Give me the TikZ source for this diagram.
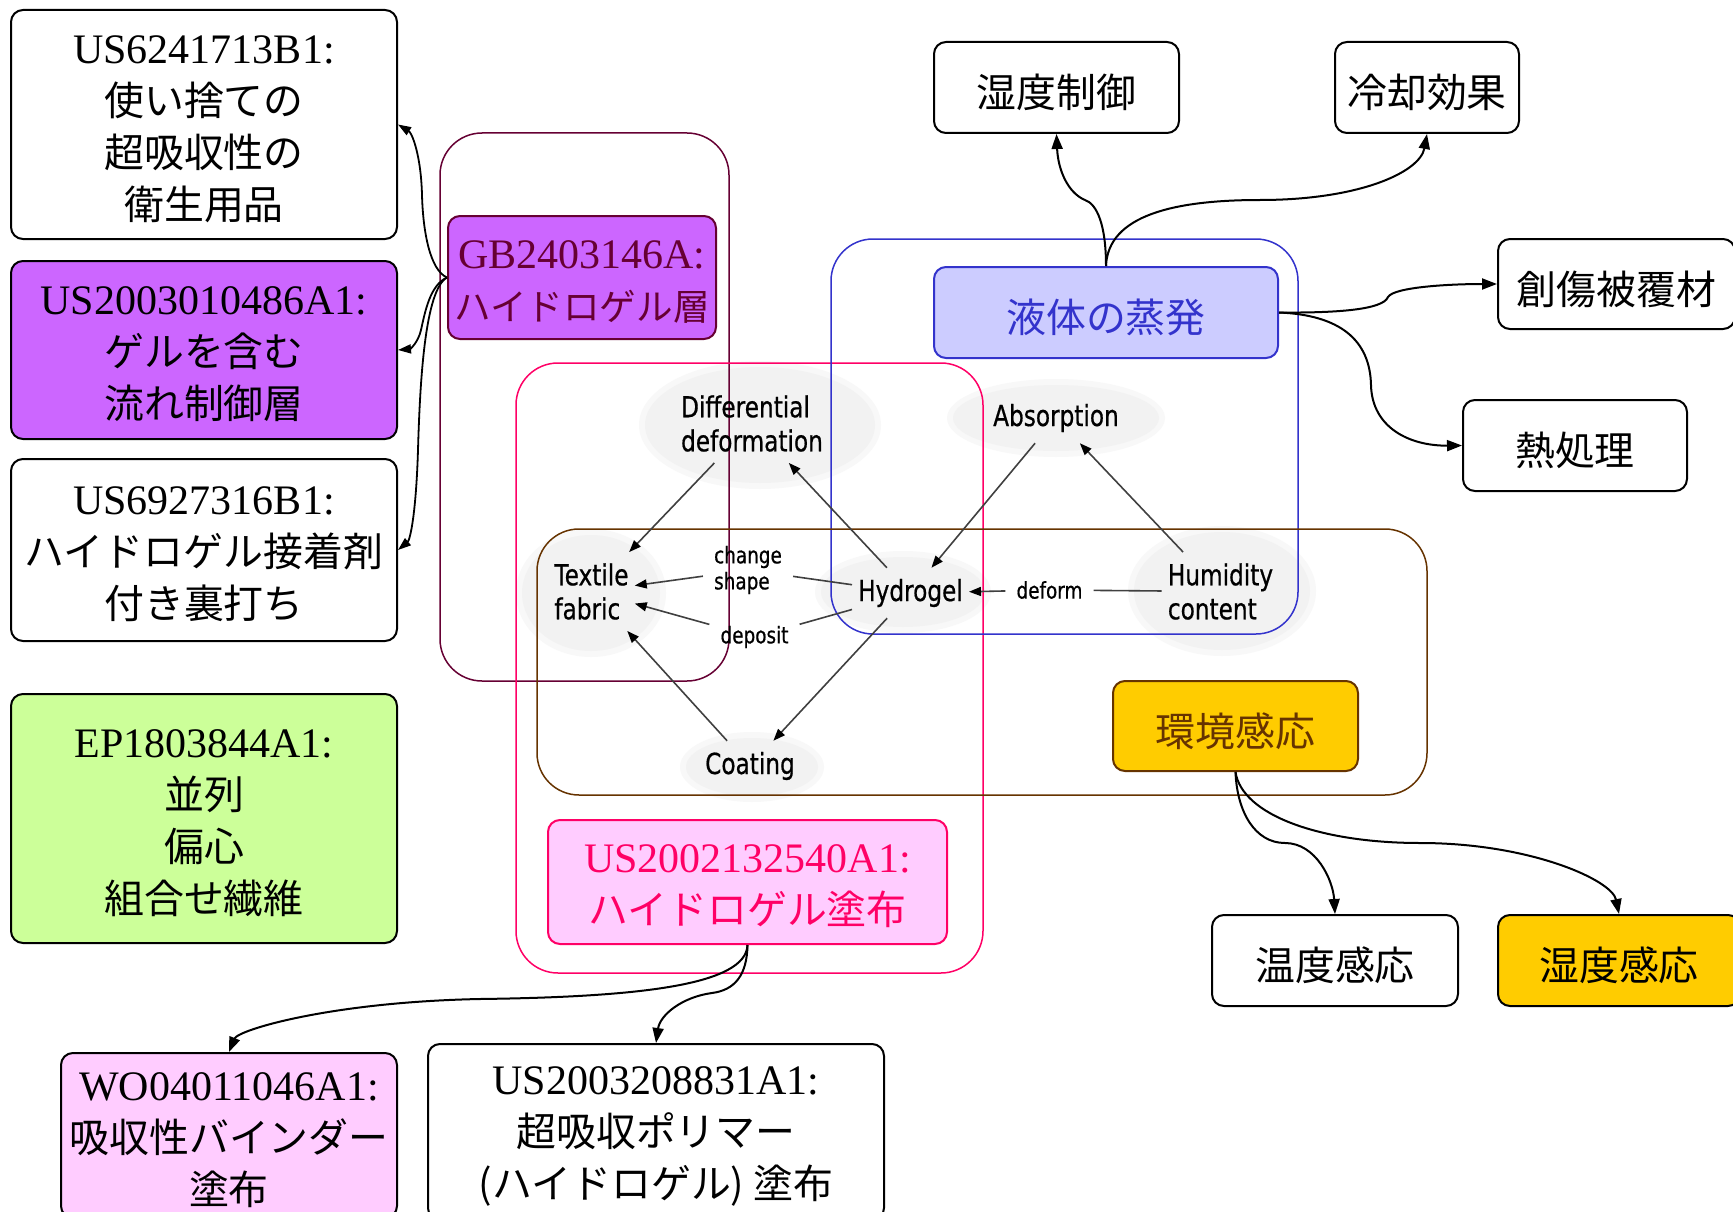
\documentclass[tikz,border=0pt]{standalone}
\usepackage{fontspec}
\setmainfont{Liberation Serif}
\newfontfamily\jpfont{Noto Sans CJK JP}[Scale=0.95]
\newfontfamily\cmapfont{DejaVu Sans}[FakeStretch=0.8,FakeBold=0.6]
\usetikzlibrary{arrows.meta}

% struts that lower the text block a little inside its box
\newcommand\boxlift{\rule{0pt}{37pt}}
\newcommand\jplift{\rule{0pt}{44pt}}

\definecolor{purp}{HTML}{CC66FF}
\definecolor{plum}{HTML}{660033}
\definecolor{hotpink}{HTML}{FF0066}
\definecolor{lpink}{HTML}{FFCCFF}
\definecolor{lgreen}{HTML}{CCFF99}
\definecolor{lblue}{HTML}{CCCCFF}
\definecolor{dblue}{HTML}{3333CC}
\definecolor{gold}{HTML}{FFCC00}
\definecolor{cbrown}{HTML}{663300}
\definecolor{ellgray}{HTML}{F2F2F2}
\definecolor{ellhalo}{HTML}{F8F8F8}
\definecolor{edgegray}{HTML}{404040}

\tikzset{
  box/.style={draw=black, line width=2pt, rounded corners=12pt, fill=white,
    align=center, inner sep=0pt, font=\fontsize{42}{52}\selectfont},
  cont/.style={line width=1.5pt, rounded corners=42pt},
  concept/.style={font=\cmapfont\fontsize{29}{34}\selectfont, align=left,
    inner xsep=6pt, inner ysep=11pt},
  lnk/.style={font=\cmapfont\fontsize{23}{26}\selectfont, align=left,
    inner xsep=11pt, inner ysep=6pt},
  flow/.style={line width=2pt, -{Triangle[length=15pt,width=11pt]}},
  gbflow/.style={line width=1.8pt, -{Triangle[length=13pt,width=9pt]}},
  cedge/.style={draw=edgegray, line width=1.6pt},
  carrow/.style={cedge, -{Triangle[length=12pt,width=9pt,color=black]}},
  halo/.style={fill=ellhalo},
  blob/.style={fill=ellgray}
}

\begin{document}
\begin{tikzpicture}[x=1pt,y=-1pt]
\useasboundingbox (0,0) rectangle (1733,1212);
\clip (0,0) rectangle (1733,1212);
\fill[white] (0,0) rectangle (1733,1212);

% soft backgrounds of the concept map
\fill[halo] (760,425) ellipse [x radius=121pt, y radius=64pt];
\fill[blob] (760,425) ellipse [x radius=115pt, y radius=58pt];
\fill[halo] (1056,418) ellipse [x radius=109pt, y radius=39pt];
\fill[blob] (1056,418) ellipse [x radius=103pt, y radius=33pt];
\fill[halo] (591,593) ellipse [x radius=75pt, y radius=64pt];
\fill[blob] (591,593) ellipse [x radius=69pt, y radius=58pt];
\fill[halo] (903,592) ellipse [x radius=88pt, y radius=41pt];
\fill[blob] (903,592) ellipse [x radius=82pt, y radius=35pt];
\fill[halo] (1222,591) ellipse [x radius=94pt, y radius=65pt];
\fill[blob] (1222,591) ellipse [x radius=88pt, y radius=59pt];
\fill[halo] (752,767) ellipse [x radius=72pt, y radius=35pt];
\fill[blob] (752,767) ellipse [x radius=66pt, y radius=29pt];

% grouping frames
\draw[cont, draw=plum] (440,133) rectangle (729,681);
\draw[cont, draw=hotpink] (516,363) rectangle (983,973);
\draw[cont, draw=dblue] (831,239) rectangle (1298,634);
\draw[cont, draw=cbrown] (537,529) rectangle (1427,795);

% concepts
\node[concept] (dd) at (752,423.5) {Differential\\deformation};
\node[concept] (ab) at (1056,418) {Absorption};
\node[concept] (tf) at (591.5,591.5) {Textile\\fabric};
\node[concept] (hy) at (910.5,593) {Hydrogel};
\node[concept] (hu) at (1220.5,591.5) {Humidity\\content};
\node[concept] (co) at (750,766) {Coating};
\node[lnk] (chg) at (748,570) {change\\shape};
\node[lnk] (dep) at (754.5,637) {deposit};
\node[lnk] (dfm) at (1049.5,590) {deform};

\draw[carrow] (dd) -- (tf);
\draw[carrow] (hy) -- (dd);
\draw[carrow] (ab) -- (hy);
\draw[carrow] (hu) -- (ab);
\draw[carrow] (hy) -- (co);
\draw[carrow] (co) -- (tf);
\draw[cedge] (hy) -- (chg);
\draw[carrow] (chg) -- (tf);
\draw[cedge] (hy) -- (dep);
\draw[carrow] (dep) -- (tf);
\draw[cedge] (hu) -- (dfm);
\draw[carrow] (dfm) -- (hy);

% patent boxes on the left
\node[box, minimum width=386pt, minimum height=229pt] (b1) at (204,124.5)
  {\boxlift US6241713B1:\\{\jpfont 使い捨ての}\\{\jpfont 超吸収性の}\\{\jpfont 衛生用品}};
\node[box, fill=purp, minimum width=386pt, minimum height=178pt] (b2) at (204,350)
  {\boxlift US2003010486A1:\\{\jpfont ゲルを含む}\\{\jpfont 流れ制御層}};
\node[box, minimum width=386pt, minimum height=182pt] (b3) at (204,550)
  {\boxlift US6927316B1:\\{\jpfont ハイドロゲル接着剤}\\{\jpfont 付き裏打ち}};
\node[box, fill=lgreen, minimum width=386pt, minimum height=249pt] (b4) at (204,818.5)
  {\boxlift EP1803844A1:\\{\jpfont 並列}\\{\jpfont 偏心}\\{\jpfont 組合せ繊維}};
\node[box, fill=lpink, minimum width=336pt, minimum height=165pt] (b5) at (229,1135.5)
  {\boxlift WO04011046A1:\\{\jpfont 吸収性バインダー}\\{\jpfont 塗布}};
\node[box, minimum width=456pt, minimum height=176pt] (b6) at (656,1132)
  {\boxlift US2003208831A1:\\{\jpfont 超吸収ポリマー}\\{\jpfont (ハイドロゲル) 塗布}};
\node[box, draw=hotpink, fill=lpink, text=hotpink, minimum width=399pt, minimum height=124pt] (b7) at (747.5,882)
  {\boxlift US2002132540A1:\\{\jpfont ハイドロゲル塗布}};
\node[box, draw=plum, fill=purp, text=plum, minimum width=268pt, minimum height=123pt] (gb) at (582,277.5)
  {\boxlift GB2403146A:\\{\jpfont\fontsize{38.5}{52}\selectfont ハイドロゲル層}};

% property boxes
\node[box, draw=dblue, fill=lblue, text=dblue, minimum width=344pt, minimum height=91pt] (ek) at (1106,312.5) {\jplift\jpfont 液体の蒸発};
\node[box, draw=cbrown, fill=gold, text=cbrown, minimum width=245pt, minimum height=90pt] (kk) at (1235.5,726) {\jplift\jpfont 環境感応};
\node[box, minimum width=245pt, minimum height=91pt] (dc) at (1056.5,87.5) {\jplift\jpfont 湿度制御};
\node[box, minimum width=184pt, minimum height=91pt] (rk) at (1427,87.5) {\jplift\jpfont 冷却効果};
\node[box, minimum width=237pt, minimum height=90pt] (sh) at (1616.5,284) {\jplift\jpfont 創傷被覆材};
\node[box, minimum width=224pt, minimum height=91pt] (nt) at (1575,445.5) {\jplift\jpfont 熱処理};
\node[box, minimum width=246pt, minimum height=91pt] (ot) at (1335,960.5) {\jplift\jpfont 温度感応};
\node[box, fill=gold, minimum width=242pt, minimum height=91pt] (sk) at (1619,960.5) {\jplift\jpfont 湿度感応};

% curved links
\draw[flow] (ek.north) .. controls (1106,225) and (1097,204) .. (1085,200)
  .. controls (1068,193) and (1058,170) .. (dc.south);
\draw[flow] (ek.north) .. controls (1108,215) and (1175,200) .. (1260,200)
  .. controls (1360,200) and (1420,172) .. (rk.south);
\draw[flow] (ek.east) .. controls (1335,313) and (1383,310) .. (1388,297)
  .. controls (1394,287) and (1450,284) .. (sh.west);
\draw[flow] (ek.east) .. controls (1340,315) and (1370,340) .. (1371,385)
  .. controls (1372,428) and (1410,446) .. (nt.west);
\draw[flow] (kk.south) .. controls (1237,812) and (1255,843) .. (1285,843)
  .. controls (1316,843) and (1333,880) .. (ot.north);
\draw[flow] (kk.south) .. controls (1242,815) and (1320,843) .. (1420,843)
  .. controls (1530,843) and (1612,880) .. (sk.north);
\draw[flow] (b7.south) .. controls (746,985) and (640,997) .. (480,999)
  .. controls (330,1002) and (238,1030) .. (b5.north);
\draw[flow] (b7.south) .. controls (747,975) and (735,990) .. (712,993)
  .. controls (682,997) and (660,1015) .. (b6.north);
\draw[gbflow] (gb.west) .. controls (430,270) and (423,232) .. (422,195)
  .. controls (421,155) and (412,133) .. (b1.east);
\draw[gbflow] (gb.west) .. controls (430,285) and (425,312) .. (421,330)
  .. controls (418,343) and (410,349) .. (b2.east);
\draw[gbflow] (gb.west) .. controls (425,290) and (420,380) .. (418,450)
  .. controls (416,515) and (410,540) .. (b3.east);
\end{tikzpicture}
\end{document}
